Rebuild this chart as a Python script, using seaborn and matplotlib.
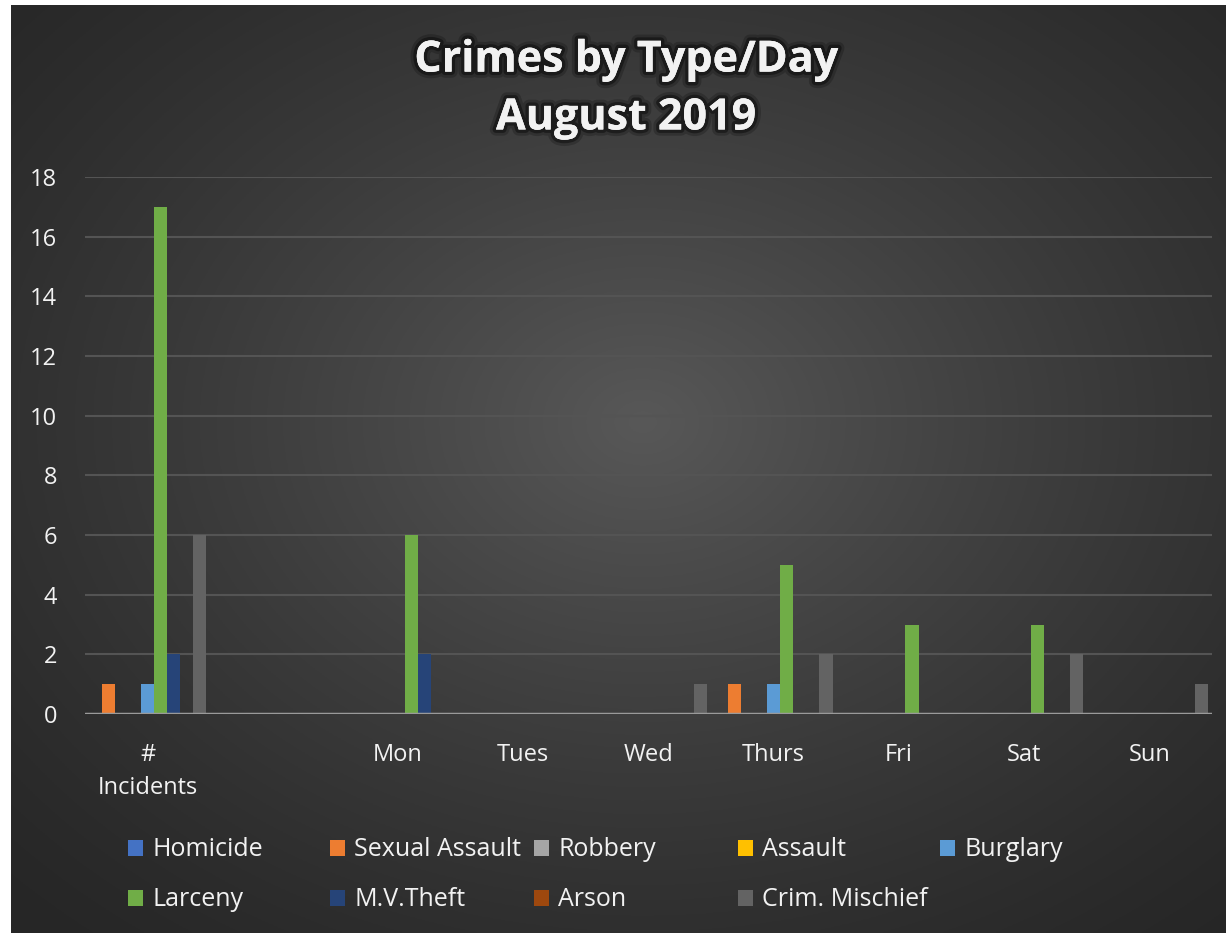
import numpy as np
import pandas as pd
import matplotlib
matplotlib.use('Agg')
import matplotlib.pyplot as plt
import matplotlib.patheffects as pe
import seaborn as sns

# categories on the x axis (blank slot between "# Incidents" and Mon)
days = ['#\nIncidents', ' ', 'Mon', 'Tues', 'Wed', 'Thurs', 'Fri', 'Sat', 'Sun']
crimes = ['Homicide', 'Sexual Assault', 'Robbery', 'Assault', 'Burglary',
          'Larceny', 'M.V.Theft', 'Arson', 'Crim. Mischief']

homicide = [0, 0, 0, 0, 0, 0, 0, 0, 0]
sexual_assault = [1, 0, 0, 0, 0, 1, 0, 0, 0]
robbery = [0, 0, 0, 0, 0, 0, 0, 0, 0]
assault = [0, 0, 0, 0, 0, 0, 0, 0, 0]
burglary = [1, 0, 0, 0, 0, 1, 0, 0, 0]
larceny = [17, 0, 6, 0, 0, 5, 3, 3, 0]
mv_theft = [2, 0, 2, 0, 0, 0, 0, 0, 0]
arson = [0, 0, 0, 0, 0, 0, 0, 0, 0]
crim_mischief = [6, 0, 0, 0, 1, 2, 0, 2, 1]

colors = ['#4472C4', '#ED7D31', '#A5A5A5', '#FFC000', '#5B9BD5',
          '#70AD47', '#264478', '#9E480E', '#636363']

series = [homicide, sexual_assault, robbery, assault, burglary,
          larceny, mv_theft, arson, crim_mischief]
rows = []
for crime, vals in zip(crimes, series):
    for day, v in zip(days, vals):
        rows.append({'day': day, 'crime': crime, 'count': v})
df = pd.DataFrame(rows)

sns.set_theme(style='dark')
plt.rcParams['font.family'] = ['Open Sans', 'DejaVu Sans']

W, H = 1226, 935
fig = plt.figure(figsize=(W / 100, H / 100), dpi=100)
fig.patch.set_facecolor('white')

# radial gradient background of the chart area
bg = fig.add_axes([11 / W, 2 / H, 1 - 11 / W, (933 - 5) / H])
yy, xx = np.mgrid[0:1:400j, 0:1:500j]
r = np.sqrt(((xx - 0.52) / 0.75) ** 2 + ((yy - 0.45) / 0.75) ** 2)
r = np.clip(r, 0, 1)
inner, outer = 0x58 / 255, 0x26 / 255
val = outer + (inner - outer) * (1 - r) ** 1.3
bg.imshow(np.dstack([val, val, val]), aspect='auto', extent=[0, 1, 0, 1],
          origin='upper')
bg.set_axis_off()

ax = fig.add_axes([85 / W, 221 / H, (1212 - 85) / W, (714 - 177) / H])
ax.set_facecolor('none')

sns.barplot(data=df, x='day', y='count', hue='crime', order=days,
            hue_order=crimes, palette=colors, width=0.94, saturation=1,
            errorbar=None, linewidth=0, ax=ax)

ax.set_ylim(0, 18)
ax.set_yticks(range(0, 19, 2))
ax.set_xlim(-0.5, len(days) - 0.5)
ax.grid(axis='y', color='#545454', linewidth=1.5)
ax.grid(axis='x', visible=False)
ax.set_axisbelow(True)
for s in ax.spines.values():
    s.set_visible(False)
ax.axhline(0, color='#9a9a9a', linewidth=2.5, zorder=5)
ax.set_xlabel('')
ax.set_ylabel('')
ax.tick_params(axis='x', colors='#f2f2f2', labelsize=17, pad=21, length=0)
ax.tick_params(axis='y', colors='#f2f2f2', labelsize=17, pad=20, length=0)
for lab in ax.get_xticklabels():
    lab.set_linespacing(1.5)

# legend: one entry per cell so the columns sit at fixed positions like Excel
handles, labels = ax.get_legend_handles_labels()
ax.get_legend().remove()
col_x = [128, 330, 534, 738, 940]
row_y = [850, 900]
for i, (h, lab) in enumerate(zip(handles, labels)):
    x = col_x[i % 5]
    y = row_y[i // 5]
    fig.legend([h], [lab], loc='center left',
               bbox_to_anchor=(x / W, 1 - y / H), frameon=False,
               fontsize=18, labelcolor='#f2f2f2', handlelength=0.6,
               handleheight=0.6, handletextpad=0.38,
               borderaxespad=0, borderpad=0)

title = fig.text(626 / W, 1 - 89 / H, 'Crimes by Type/Day\nAugust 2019',
                 ha='center', va='center', fontsize=31, fontweight='bold',
                 color='#f2f2f2', linespacing=1.45)
title.set_path_effects([pe.withStroke(linewidth=9, foreground='black', alpha=0.2),
                        pe.withStroke(linewidth=5, foreground='black', alpha=0.4),
                        pe.Normal()])

fig.savefig('out.png', dpi=100, facecolor=fig.get_facecolor())
